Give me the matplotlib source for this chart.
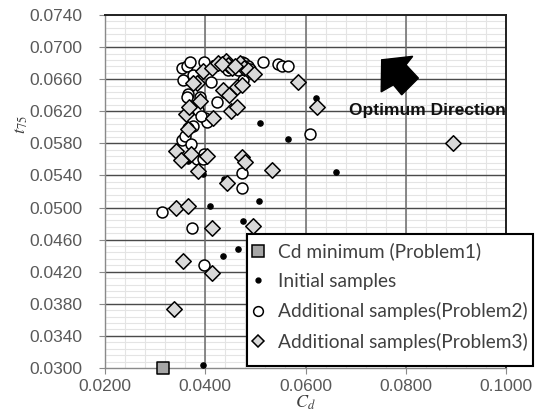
import matplotlib
matplotlib.use("Agg")
import matplotlib.pyplot as plt
import matplotlib.transforms as mtransforms
from matplotlib.patches import Polygon, Rectangle
from matplotlib.lines import Line2D
from matplotlib.ticker import FixedLocator, FormatStrFormatter

plt.rcParams["font.family"] = ["Liberation Sans", "DejaVu Sans"]
plt.rcParams["mathtext.fontset"] = "stix"

# ---------------- data ----------------
cdmin_cd = [0.0315]
cdmin_t = [0.0300]

init_cd = [0.0396, 0.0436, 0.0465, 0.0476, 0.0410, 0.0507, 0.0366, 0.0396,
           0.0437, 0.0510, 0.0566, 0.0621, 0.0661]
init_t = [0.0304, 0.0440, 0.0448, 0.0483, 0.0502, 0.0508, 0.0558, 0.0542,
          0.0536, 0.0606, 0.0586, 0.0637, 0.0544]

p2_cd = [0.0353, 0.0363, 0.0370, 0.0398, 0.0356, 0.0376, 0.0411, 0.0366,
         0.0363, 0.0390, 0.0386, 0.0423, 0.0400, 0.0404, 0.0376, 0.0366,
         0.0353, 0.0360, 0.0372, 0.0383, 0.0398, 0.0395, 0.0475, 0.0465,
         0.0473, 0.0477, 0.0485, 0.0490, 0.0515, 0.0546, 0.0553, 0.0566,
         0.0609, 0.0473, 0.0473, 0.0314, 0.0374, 0.0398, 0.0445, 0.0468,
         0.0392]
p2_t = [0.0674, 0.0676, 0.0682, 0.0681, 0.0659, 0.0665, 0.0656, 0.0642,
        0.0638, 0.0638, 0.0622, 0.0631, 0.0611, 0.0607, 0.0602, 0.0599,
        0.0584, 0.0589, 0.0579, 0.0561, 0.0567, 0.0561, 0.0659, 0.0672,
        0.0682, 0.0680, 0.0676, 0.0673, 0.0681, 0.0679, 0.0677, 0.0677,
        0.0592, 0.0543, 0.0524, 0.0494, 0.0475, 0.0429, 0.0672, 0.0652,
        0.0614]

p3_cd = [0.0341, 0.0351, 0.0372, 0.0386, 0.0404, 0.0474, 0.0479, 0.0533,
         0.0444, 0.0361, 0.0368, 0.0390, 0.0384, 0.0376, 0.0416, 0.0366,
         0.0436, 0.0447, 0.0451, 0.0463, 0.0473, 0.0464, 0.0585, 0.0622,
         0.0396, 0.0413, 0.0425, 0.0441, 0.0446, 0.0454, 0.0469, 0.0477,
         0.0486, 0.0498, 0.0895, 0.0342, 0.0366, 0.0413, 0.0496, 0.0356,
         0.0413, 0.0338, 0.0434, 0.0460]
p3_t = [0.0571, 0.0559, 0.0567, 0.0545, 0.0564, 0.0563, 0.0557, 0.0547,
        0.0530, 0.0616, 0.0625, 0.0633, 0.0655, 0.0655, 0.0611, 0.0598,
        0.0647, 0.0640, 0.0620, 0.0650, 0.0653, 0.0625, 0.0657, 0.0625,
        0.0670, 0.0674, 0.0680, 0.0683, 0.0678, 0.0674, 0.0680, 0.0674,
        0.0671, 0.0667, 0.0581, 0.0499, 0.0502, 0.0475, 0.0477, 0.0433,
        0.0419, 0.0373, 0.0679, 0.0677]

labels = ["Cd minimum (Problem1)", "Initial samples",
          "Additional samples(Problem2)", "Additional samples(Problem3)"]

x_ticks = [0.02, 0.04, 0.06, 0.08, 0.10]
y_ticks = [0.030, 0.034, 0.038, 0.042, 0.046, 0.050, 0.054, 0.058,
           0.062, 0.066, 0.070, 0.074]
x_minor = [0.02 + 0.004 * i for i in range(21)]
y_minor = [0.030 + 0.0008 * i for i in range(56)]

# ---------------- figure ----------------
fig = plt.figure(figsize=(5.36, 4.12), dpi=100)
ax = fig.add_axes([105/536, 44/412, 401/536, 353/412])

ax.set_xlim(0.02, 0.10)
ax.set_ylim(0.030, 0.074)
ax.xaxis.set_major_locator(FixedLocator(x_ticks))
ax.yaxis.set_major_locator(FixedLocator(y_ticks))
ax.xaxis.set_major_formatter(FormatStrFormatter("%.4f"))
ax.yaxis.set_major_formatter(FormatStrFormatter("%.4f"))

# gridlines: minor first, majors on top
for v in x_minor:
    ax.axvline(v, color="#e4e4e4", lw=0.8, zorder=0.2)
for v in y_minor:
    ax.axhline(v, color="#e4e4e4", lw=0.8, zorder=0.2)
for v in y_ticks[1:-1]:
    ax.axhline(v, color="#4a4a4a", lw=1.0, zorder=0.6)
for v in x_ticks[1:-1]:
    ax.axvline(v, color="#6a6a6a", lw=1.1, zorder=0.7)

for s in ["top", "right"]:
    ax.spines[s].set_color("#202020")
    ax.spines[s].set_linewidth(1.4)
for s in ["left", "bottom"]:
    ax.spines[s].set_color("#8a8a8a")
    ax.spines[s].set_linewidth(1.0)

ax.tick_params(which="major", direction="out", length=4, width=0.8,
               color="#8a8a8a", labelcolor="#595959", labelsize=12.5)
ax.tick_params(axis="y", pad=12)
ax.tick_params(axis="x", pad=4)

# points
ax.scatter(init_cd, init_t, s=14, c="black", zorder=3)
ax.scatter(p2_cd, p2_t, s=62, facecolors="white", edgecolors="black",
           linewidths=1.1, zorder=4)
ax.scatter(p3_cd, p3_t, s=62, marker="D", facecolors="#d9d9d9",
           edgecolors="black", linewidths=1.1, zorder=5)
ax.scatter(cdmin_cd, cdmin_t, s=80, marker="s", facecolors="#a6a6a6",
           edgecolors="black", linewidths=1.1, zorder=6, clip_on=False)

# arrow (pixel offsets relative to tip, y up)
shape = [(0, 0), (31, 3.5), (24.3, -5), (36.7, -18.3), (20, -35),
         (11.7, -25), (-0.5, -32)]
tr = fig.dpi_scale_trans + mtransforms.ScaledTranslation(0.690, 0.873, ax.transAxes)
ax.add_patch(Polygon([(x/100, y/100) for x, y in shape], closed=True,
                     transform=tr, facecolor="black", edgecolor="black", zorder=7))

ax.text(0.0843, 0.0621, "Optimum Direction", fontsize=12.5, fontweight="bold",
        ha="center", va="center", zorder=8, color="#111111")

# axis labels
fig.text(305/536, 0.0, r"$C_d$", fontsize=13, ha="center", va="bottom",
         color="#404040")
fig.text(21/536, 1-125/412, r"$t_{75}$", fontsize=13,
         rotation=90, ha="center", va="center", color="#404040")

# legend (frame drawn as a figure rectangle)
fig.patches.append(Rectangle((247/536, 1-366/412), 286/536, 132/412,
                             transform=fig.transFigure, facecolor="white",
                             edgecolor="black", lw=1.5, zorder=9))
handles = [
    Line2D([], [], ls="none", marker="s", ms=8, mfc="#a6a6a6", mec="black", mew=1.1),
    Line2D([], [], ls="none", marker="o", ms=3.5, mfc="black", mec="black"),
    Line2D([], [], ls="none", marker="o", ms=7, mfc="white", mec="black", mew=1.1),
    Line2D([], [], ls="none", marker="D", ms=6.5, mfc="#d9d9d9", mec="black", mew=1.1),
]
leg = fig.legend(handles, labels, loc="upper left",
                 bbox_to_anchor=(247/536, 1-236/412), borderaxespad=0,
                 frameon=False, prop={"family": "Lato", "size": 13.8},
                 labelspacing=0.64, handlelength=0.4, handletextpad=0.85,
                 borderpad=0.35, labelcolor="#404040")
leg.set_zorder(10)

fig.savefig("out.png", dpi=100)
